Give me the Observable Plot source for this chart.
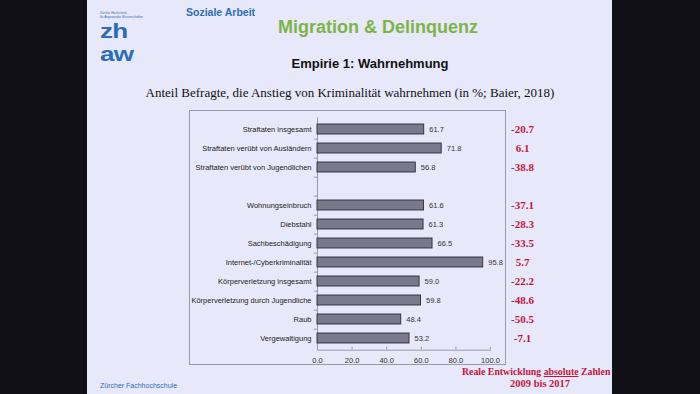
<!DOCTYPE html>
<html>
<head>
<meta charset="utf-8">
<script src="https://cdn.jsdelivr.net/npm/d3@7"></script>
<script src="https://cdn.jsdelivr.net/npm/@observablehq/plot@0.6"></script>
<style>
  html, body { margin: 0; padding: 0; background: #111016; }
  #page { position: relative; width: 700px; height: 394px; background: #111016; overflow: hidden; }
  #slide { position: absolute; left: 87px; top: 0; width: 525px; height: 394px; background: #e8e8fb; overflow: hidden; }
  .abs { position: absolute; white-space: nowrap; }
  .logo { position: absolute; white-space: nowrap; font: bold 20px/22px 'Liberation Sans', Arial, sans-serif; color: #2a6cb5; letter-spacing: -0.5px; transform: scaleX(1.3); transform-origin: left center; }
  #box { position: absolute; left: 102px; top: 110px; width: 317px; height: 255px; border: 1px solid #9a9aa6; box-sizing: border-box; }
  #chart { position: absolute; left: 102px; top: 110px; }
</style>
</head>
<body>
<div id="page">
  <div id="slide">
    <div class="abs" style="left:13px;top:12px;font:3px/3.5px 'Liberation Sans',sans-serif;color:#2e6db4;">Zürcher Hochschule<br>für Angewandte Wissenschaften</div>
    <div class="logo" style="left:13px;top:20px;">zh</div>
    <div class="logo" style="left:13px;top:42.5px;">aw</div>
    <div class="abs" style="left:99px;top:6px;font:bold 10.5px 'Liberation Sans',Arial,sans-serif;color:#2e6db4;">Soziale Arbeit</div>
    <div class="abs" style="left:0;width:582px;top:17px;text-align:center;font:bold 18px 'Liberation Sans',Arial,sans-serif;color:#7cb446;">Migration &amp; Delinquenz</div>
    <div class="abs" style="left:0;width:566px;top:56px;text-align:center;font:bold 13px 'Liberation Sans',Arial,sans-serif;color:#111;">Empirie 1: Wahrnehmung</div>
    <div class="abs" style="left:0;width:526px;top:85px;text-align:center;font:13px 'Liberation Serif','Times New Roman',serif;color:#111;">Anteil Befragte, die Anstieg von Kriminalität wahrnehmen (in %; Baier, 2018)</div>
    <div id="box"></div>
    <div id="chart"></div>
    <div class="abs" style="left:375px;top:366px;font:bold 9.8px 'Liberation Serif','Times New Roman',serif;color:#c2173c;">Reale Entwicklung <u>absolute</u> Zahlen</div>
    <div class="abs" style="left:423px;top:378px;font:bold 10.5px 'Liberation Serif','Times New Roman',serif;color:#c2173c;">2009 bis 2017</div>
    <div class="abs" style="left:13px;top:382px;font:7px 'Liberation Sans',Arial,sans-serif;color:#2e6db4;">Zürcher Fachhochschule</div>
  </div>
</div>
<script>
const categories = [
  "Straftaten insgesamt",
  "Straftaten verübt von Ausländern",
  "Straftaten verübt von Jugendlichen",
  "",
  "Wohnungseinbruch",
  "Diebstahl",
  "Sachbeschädigung",
  "Internet-/Cyberkriminalität",
  "Körperverletzung insgesamt",
  "Körperverletzung durch Jugendliche",
  "Raub",
  "Vergewaltigung"
];
const shares = [61.7, 71.8, 56.8, null, 61.6, 61.3, 66.5, 95.8, 59.0, 59.8, 48.4, 53.2];
const realChange = [-20.7, 6.1, -38.8, null, -37.1, -28.3, -33.5, 5.7, -22.2, -48.6, -50.5, -7.1];
const xTicks = [0, 20, 40, 60, 80, 100];

const rows = categories.map((c, i) => ({cat: c, share: shares[i], change: realChange[i]}));
const bars = rows.filter(d => d.share != null);
const step = 232.4 / categories.length;
const fmt = v => v.toFixed(1);

const chart = Plot.plot({
  width: 360,
  height: 256,
  marginLeft: 128,
  marginRight: 59,
  marginTop: 7.3,
  marginBottom: 16.3,
  style: {background: "transparent", overflow: "visible", fontFamily: "'Liberation Sans', Arial, sans-serif"},
  x: {domain: [0, 100], label: null},
  y: {domain: categories, paddingInner: 0.46, paddingOuter: 0.23, label: null},
  marks: [
    Plot.ruleX([0], {stroke: "#9a9aa6", strokeWidth: 1}),
    Plot.ruleY(categories.slice(0, -1), {y: d => d, x1: -1.8, x2: 0, dy: step / 2, stroke: "#9a9aa6"}),
    Plot.frame({anchor: "bottom", stroke: "#9a9aa6"}),
    Plot.barX(bars, {y: "cat", x: "share", fill: "#7a798b", stroke: "#2c2b36", strokeWidth: 0.9}),
    Plot.text(bars, {y: "cat", x: "share", text: d => fmt(d.share), dx: 5, textAnchor: "start", fontSize: 7.5, fill: "#333"}),
    Plot.text(bars, {y: "cat", text: d => fmt(d.change), frameAnchor: "right", dx: 32, textAnchor: "middle", fontSize: 11, fontWeight: "bold", fontFamily: "'Liberation Serif', 'Times New Roman', serif", fill: "#c2173c"}),
    Plot.axisY({tickSize: 0, tickPadding: 6, fontSize: 7.5, fill: "#222", tickFormat: d => d, label: null}),
    Plot.axisX({ticks: xTicks, tickSize: -3, tickPadding: 10, tickFormat: fmt, fontSize: 7.5, fill: "#333", stroke: "#9a9aa6", label: null})
  ]
});
document.getElementById("chart").appendChild(chart);
</script>
</body>
</html>
